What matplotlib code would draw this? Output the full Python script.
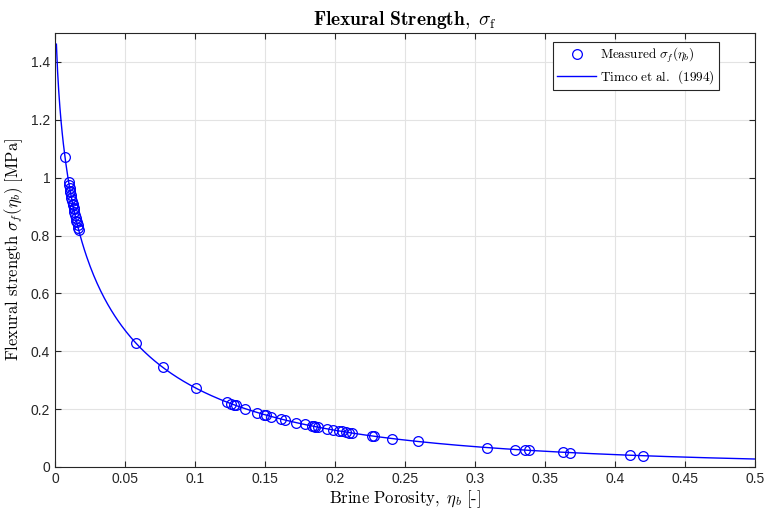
import numpy as np
import matplotlib.pyplot as plt

plt.rcParams['mathtext.fontset'] = 'cm'
plt.rcParams['font.family'] = ['Liberation Sans', 'DejaVu Sans']

# measured brine porosity [-] and flexural strength [MPa]
eta_meas = [0.0073, 0.00975, 0.01009, 0.01045, 0.01081, 0.0110, 0.01138, 0.01177,
            0.01217, 0.01259, 0.0128, 0.01323, 0.01345, 0.0139, 0.01436, 0.01483,
            0.01532, 0.01557, 0.01608, 0.0166, 0.01687,
            0.0578, 0.077, 0.1008, 0.1227, 0.1255, 0.1277, 0.129, 0.1355, 0.1446,
            0.1495, 0.151, 0.1545, 0.1616, 0.1644, 0.1724, 0.1783, 0.1838, 0.185,
            0.186, 0.188, 0.194, 0.1988, 0.2026, 0.205, 0.2076, 0.2097, 0.212,
            0.2266, 0.2278, 0.2408, 0.2594, 0.3086, 0.3288, 0.336, 0.3383, 0.3628,
            0.368, 0.4104, 0.4199]
sigma_meas = [1.07, 0.985, 0.975, 0.965, 0.955, 0.95, 0.94, 0.93,
              0.92, 0.91, 0.905, 0.895, 0.89, 0.88, 0.87, 0.86,
              0.85, 0.845, 0.835, 0.825, 0.82,
              0.428, 0.344, 0.272, 0.2244, 0.2193, 0.2153, 0.2129, 0.2021, 0.1881,
              0.1811, 0.1791, 0.1744, 0.1655, 0.1622, 0.1532, 0.1470, 0.1415, 0.1403,
              0.1393, 0.1374, 0.1320, 0.1279, 0.1248, 0.1228, 0.1208, 0.1191, 0.1174,
              0.1071, 0.1063, 0.0983, 0.0881, 0.0671, 0.0604, 0.0582, 0.0576, 0.0510,
              0.0497, 0.0407, 0.0389]

# Timco & O'Brien (1994) model: sigma_f = a * exp(-b * sqrt(eta_b))
timco_a = 1.76
timco_b = 5.88
eta_model = np.linspace(0.001, 0.5, 600)
sigma_model = timco_a * np.exp(-timco_b * np.sqrt(eta_model))

fig = plt.figure(figsize=(7.66, 5.13), dpi=100)
ax = fig.add_axes([0.0718, 0.0897, 0.9138, 0.846])

ax.plot(eta_meas, sigma_meas, 'o', mfc='none', mec='blue', ms=7, mew=0.9,
        label=r'$\mathrm{Measured}\ \sigma_f(\eta_b)$')
ax.plot(eta_model, sigma_model, '-', color='blue', lw=1.0,
        label=r'$\mathrm{Timco\ et\ al.\ \,(1994)}$')

ax.set_xlim(0, 0.5)
ax.set_ylim(0, 1.5)
ax.set_xticks(np.arange(0, 0.51, 0.05))
ax.set_xticklabels(['0', '0.05', '0.1', '0.15', '0.2', '0.25', '0.3', '0.35', '0.4', '0.45', '0.5'])
ax.set_yticks(np.arange(0, 1.41, 0.2))
ax.set_yticklabels(['0', '0.2', '0.4', '0.6', '0.8', '1', '1.2', '1.4'])
ax.tick_params(direction='in', top=True, right=True, labelsize=10, length=4,
               width=0.8, colors='#262626')
ax.grid(True, color='#e3e3e3', lw=0.8)
ax.set_axisbelow(True)
for s in ax.spines.values():
    s.set_color('#262626')
    s.set_linewidth(0.8)

ax.set_title(r'$\mathbf{Flexural\ Strength,}\ \sigma_\mathrm{f}$', fontsize=14, pad=6)
ax.set_xlabel(r'$\mathrm{Brine\ Porosity,}\ \eta_b\ \mathrm{[\text{-}]}$', fontsize=12, labelpad=2)
ax.set_ylabel(r'$\mathrm{Flexural\ strength}\ \sigma_f(\eta_b)\ \mathrm{[MPa]}$', fontsize=12, labelpad=4)

leg = ax.legend(loc='upper right', bbox_to_anchor=(0.9486, 0.979), fontsize=9.5,
                fancybox=False, edgecolor='#262626', framealpha=1,
                handlelength=3.0, handletextpad=0.3, borderpad=0.3,
                borderaxespad=0, labelspacing=0.2)
leg.get_frame().set_linewidth(0.8)

fig.savefig('out.png', dpi=100)
